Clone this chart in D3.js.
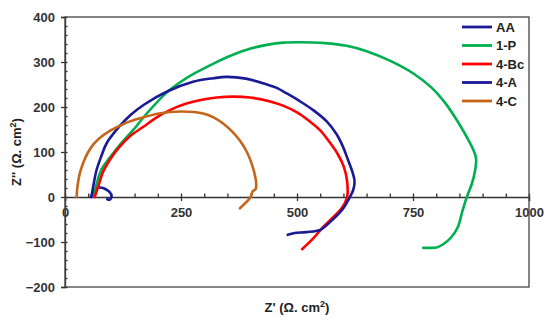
<!DOCTYPE html>
<html>
<head>
<meta charset="utf-8">
<script src="https://cdn.jsdelivr.net/npm/d3@7"></script>
<style>
  body { margin: 0; background: #fff; }
  svg { display: block; font-family: "Liberation Sans", Arial, sans-serif; }
  .axis text { font-size: 13px; font-weight: bold; fill: #333; }
  .axis path, .axis line { stroke: #333; stroke-width: 1.3; }
</style>
</head>
<body>
<svg id="chart" width="550" height="322"></svg>
<script>
// Nyquist data (Z' , Z'')
const seriesNames = ['AA', '1-P', '4-Bc', '4-A', '4-C'];
const seriesColors = ['#1a1a96', '#00b050', '#ff0000', '#1a1a96', '#c5651b'];

const aa = [[56,0],[60,10],[66,18],[74,21],[82,20],[90,16],[97,10],[100,3],[99,-3],[96,-6],[91,-5]];

const p1 = [[62,0],[67,25],[79,62],[97,88],[120,118],[147,149],[180,190],[219,232],[248,255],[276,273],
  [319,296],[362,316],[400,330],[435,338],[470,343],[506,344],[560,342],[607,336],[650,324],[700,303],
  [750,275],[790,243],[820,208],[845,170],[865,135],[880,105],[886,85],[884,60],[877,30],[866,0],
  [856,-33],[847,-66],[832,-90],[815,-105],[801,-112],[785,-113],[772,-113]];

const bc4 = [[64,0],[72,25],[83,58],[100,88],[118,112],[140,135],[169,156],[196,176],[226,193],[260,207],
  [295,216],[327,221],[362,223],[399,221],[440,213],[470,203],[500,188],[525,170],[550,148],[570,122],
  [588,95],[601,67],[608,35],[608,0],[597,-24],[578,-45],[556,-67],[535,-92],[511,-116]];

const a4 = [[57,0],[62,30],[68,60],[78,90],[90,120],[115,154],[140,181],[170,205],[219,234],[276,256],
  [320,264],[348,267],[390,263],[435,250],[455,243],[480,229],[506,213],[535,193],[564,168],[585,140],
  [599,112],[609,85],[618,60],[624,35],[621,15],[614,0],[597,-29],[575,-52],[550,-73],[520,-78],
  [495,-80],[480,-84]];

const c4 = [[25,0],[27,25],[32,53],[40,78],[50,100],[62,118],[78,134],[95,146],[118,158],[140,168],
  [169,177],[200,185],[226,189],[250,190],[277,189],[300,185],[320,177],[340,164],[360,146],[378,124],
  [392,100],[403,72],[410,45],[412,30],[411,18],[404,12],[402,5],[399,-2],[390,-12],[377,-25]];

const seriesData = [aa, p1, bc4, a4, c4];

const xTicks = [0, 250, 500, 750, 1000];
const yTicks = [-200, -100, 0, 100, 200, 300, 400];

const svg = d3.select('#chart');
const plotLeft = 65, plotRight = 529, plotTop = 17, plotBottom = 287;

const x = d3.scaleLinear().domain([0, 1000]).range([plotLeft, plotRight]);
const y = d3.scaleLinear().domain([-200, 400]).range([plotBottom, plotTop]);

// y axis: major ticks outward, minor ticks inward
svg.append('g')
  .attr('class', 'axis')
  .attr('transform', `translate(${plotLeft},0)`)
  .call(d3.axisLeft(y).tickValues(yTicks).tickSize(4).tickPadding(6));

svg.append('g')
  .attr('class', 'axis')
  .attr('transform', `translate(${plotLeft},0)`)
  .call(d3.axisRight(y).tickValues(d3.range(-200, 401, 20)).tickSize(2.5).tickFormat(''))
  .call(g => g.select('.domain').remove());

// x axis along Z'' = 0
svg.append('g')
  .attr('class', 'axis')
  .attr('transform', `translate(0,${y(0)})`)
  .call(d3.axisBottom(x).tickValues(xTicks).tickSize(4).tickPadding(7).tickFormat(d3.format('d')));

svg.append('g')
  .attr('class', 'axis')
  .attr('transform', `translate(0,${y(0)})`)
  .call(d3.axisTop(x).tickValues(d3.range(0, 1001, 50)).tickSize(3.5).tickFormat(''))
  .call(g => g.select('.domain').remove());

// frame (drawn over the tick labels, like the original)
svg.append('rect')
  .attr('x', plotLeft).attr('y', plotTop)
  .attr('width', plotRight - plotLeft).attr('height', plotBottom - plotTop)
  .attr('fill', 'none').attr('stroke', '#444').attr('stroke-width', 1.3);

// curves
const line = d3.line()
  .x(d => x(d[0]))
  .y(d => y(d[1]))
  .curve(d3.curveCatmullRom.alpha(0.5));

seriesData.forEach((data, i) => {
  svg.append('path')
    .datum(data)
    .attr('fill', 'none')
    .attr('stroke', seriesColors[i])
    .attr('stroke-width', 2.6)
    .attr('stroke-linejoin', 'round')
    .attr('stroke-linecap', 'round')
    .attr('d', line);
});

// axis labels
svg.append('text')
  .attr('x', (plotLeft + plotRight) / 2).attr('y', 312)
  .attr('text-anchor', 'middle')
  .style('font-size', '13px').style('font-weight', 'bold').attr('fill', '#222')
  .html("Z' (Ω. cm<tspan dy='-5' font-size='9px'>2</tspan><tspan dy='5'>)</tspan>");

svg.append('text')
  .attr('transform', `translate(21,${(plotTop + plotBottom) / 2}) rotate(-90)`)
  .attr('text-anchor', 'middle')
  .style('font-size', '13px').style('font-weight', 'bold').attr('fill', '#222')
  .html("Z'' (Ω. cm<tspan dy='-5' font-size='9px'>2</tspan><tspan dy='5'>)</tspan>");

// legend
const legend = svg.append('g').attr('transform', 'translate(462,27)');
seriesNames.forEach((name, i) => {
  const row = legend.append('g').attr('transform', `translate(0,${i * 18.5})`);
  row.append('line')
    .attr('x1', 0).attr('x2', 30)
    .attr('stroke', seriesColors[i]).attr('stroke-width', 2.8);
  row.append('text')
    .attr('x', 34).attr('dy', '0.35em')
    .style('font-size', '13px').style('font-weight', 'bold').attr('fill', '#222')
    .text(name);
});
</script>
</body>
</html>
